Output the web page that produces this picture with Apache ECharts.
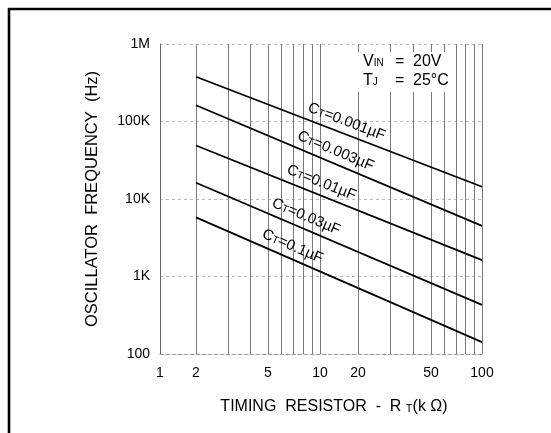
<!DOCTYPE html>
<html>
<head>
<meta charset="utf-8">
<script src="https://cdn.jsdelivr.net/npm/echarts@6/dist/echarts.min.js"></script>
<style>
  html, body { margin: 0; padding: 0; background: #fff; }
  #chart { width: 551px; height: 433px; }
</style>
</head>
<body>
<div id="chart"></div>
<script>
// resistor values (k ohm) where the curves start and end
var resistance = [2, 100];
// oscillator frequency (Hz) for each timing capacitor
var ct001 = [378000, 14400];
var ct003 = [162000, 4500];
var ct01 = [49000, 1630];
var ct03 = [16200, 430];
var ct1 = [5800, 142];
var capNames = ['0.001', '0.003', '0.01', '0.03', '0.1'];
var capSeries = [ct001, ct003, ct01, ct03, ct1];
// where along the x axis each curve label sits
var labelR = [15.0, 12.2, 9.6, 7.8, 6.5];

var xTicks = [1, 2, 5, 10, 20, 50, 100];
var xGrid = [2, 3, 4, 5, 6, 7, 8, 9, 10, 20, 30, 40, 50, 60, 70, 80, 90, 100];

// the printed sheet's x scale is not a true log scale: each labelled
// step gets its own width, log-spaced inside the step
var rKnots = [1, 2, 5, 10, 20, 50, 100];
var uKnots = [0, 36, 108, 160, 198, 271, 322];

function toU(r) {
    var lr = Math.log10(r);
    for (var i = 0; i < rKnots.length - 1; i++) {
        var a = Math.log10(rKnots[i]), b = Math.log10(rKnots[i + 1]);
        if (lr <= b + 1e-9 || i == rKnots.length - 2)
            return uKnots[i] + (lr - a) / (b - a) * (uKnots[i + 1] - uKnots[i]);
    }
}

var FONT = "'Liberation Sans', Arial, Helvetica, sans-serif";

var chart = echarts.init(document.getElementById('chart'));

var series = capSeries.map(function(vals, k){
    return {
        type: 'line',
        name: capNames[k],
        data: resistance.map(function(r, i){ return [toU(r), vals[i]]; }),
        symbol: 'none',
        lineStyle: { color: '#000', width: 1.8 },
        silent: true,
        z: 5
    };
});

// vertical grid lines
series.push({
    type: 'line',
    data: [],
    markLine: {
        silent: true,
        symbol: 'none',
        label: { show: false },
        lineStyle: { color: '#7a7a7a', width: 1, type: 'solid' },
        data: xGrid.map(function(r){ return { xAxis: toU(r) }; })
    },
    z: 1
});

var option = {
    animation: false,
    backgroundColor: '#fff',
    grid: { left: 160, right: 69, top: 44, bottom: 79 },
    xAxis: {
        type: 'value',
        min: 0,
        max: 322,
        name: 'TIMING  RESISTOR  -  R {s|T}(k Ω)',
        nameLocation: 'middle',
        nameGap: 45,
        nameTextStyle: {
            fontFamily: FONT, fontSize: 16, color: '#000',
            padding: [0, 0, 0, 26],
            rich: { s: { fontFamily: FONT, fontSize: 11, color: '#000', padding: [4, 0, 0, 0] } }
        },
        axisLine: { show: true, lineStyle: { color: '#999', type: [4, 2], width: 1 } },
        axisTick: { show: false },
        splitLine: { show: false },
        axisLabel: {
            customValues: xTicks.map(toU),
            margin: 12,
            fontFamily: FONT,
            fontSize: 14,
            color: '#000',
            formatter: function(v){
                for (var i = 0; i < xTicks.length; i++)
                    if (Math.abs(toU(xTicks[i]) - v) < 0.01) return String(xTicks[i]);
                return '';
            }
        }
    },
    yAxis: {
        type: 'log',
        logBase: 10,
        min: 100,
        max: 1000000,
        name: 'OSCILLATOR  FREQUENCY  (Hz)',
        nameLocation: 'middle',
        nameGap: 59,
        nameRotate: 90,
        nameTextStyle: { fontFamily: FONT, fontSize: 16.5, color: '#000' },
        axisLine: { show: true, lineStyle: { color: '#666', width: 1 } },
        axisTick: { show: false },
        splitLine: { show: true, lineStyle: { color: '#bbb', type: [3, 3], width: 1 } },
        axisLabel: {
            margin: 10,
            fontFamily: FONT,
            fontSize: 14,
            color: '#000',
            formatter: function(v){
                if (v >= 1000000) return Math.round(v / 1000000) + 'M';
                if (v >= 1000) return Math.round(v / 1000) + 'K';
                return String(Math.round(v));
            }
        }
    },
    series: series
};

chart.setOption(option);

// frame and condition text
var graphics = [
    { type: 'line', shape: { x1: 9, y1: 8, x2: 9, y2: 433 }, style: { stroke: '#000', lineWidth: 2.6 } },
    { type: 'line', shape: { x1: 8, y1: 9, x2: 551, y2: 9 }, style: { stroke: '#000', lineWidth: 2.6 } },
    { type: 'rect', shape: { x: 358, y: 52, width: 96, height: 40 }, style: { fill: '#fff' }, z: 20 },
    { type: 'text', x: 363, y: 62, z: 21, style: { text: '{a|V}{s|IN}', verticalAlign: 'middle', rich: {
        a: { fontFamily: FONT, fontSize: 16, fill: '#000' },
        s: { fontFamily: FONT, fontSize: 10, fill: '#000', padding: [3, 0, 0, 0] } } } },
    { type: 'text', x: 363, y: 81, z: 21, style: { text: '{a|T}{s|J}', verticalAlign: 'middle', rich: {
        a: { fontFamily: FONT, fontSize: 16, fill: '#000' },
        s: { fontFamily: FONT, fontSize: 10, fill: '#000', padding: [3, 0, 0, 0] } } } },
    { type: 'text', x: 395, y: 62, z: 21, style: { text: '=', verticalAlign: 'middle', font: '16px ' + FONT, fill: '#000' } },
    { type: 'text', x: 395, y: 81, z: 21, style: { text: '=', verticalAlign: 'middle', font: '16px ' + FONT, fill: '#000' } },
    { type: 'text', x: 413, y: 62, z: 21, style: { text: '20V', verticalAlign: 'middle', font: '16px ' + FONT, fill: '#000' } },
    { type: 'text', x: 413, y: 81, z: 21, style: { text: '25°C', verticalAlign: 'middle', font: '16px ' + FONT, fill: '#000' } }
];

// curve labels, laid along each line
capSeries.forEach(function(vals, k){
    var p0 = chart.convertToPixel({ gridIndex: 0 }, [toU(resistance[0]), vals[0]]);
    var p1 = chart.convertToPixel({ gridIndex: 0 }, [toU(resistance[1]), vals[1]]);
    var ang = Math.atan2(p1[1] - p0[1], p1[0] - p0[0]);
    var px = chart.convertToPixel({ gridIndex: 0 }, [toU(labelR[k]), 1000])[0];
    var py = p0[1] + (px - p0[0]) / (p1[0] - p0[0]) * (p1[1] - p0[1]);
    var d = 12;
    graphics.push({
        type: 'text',
        x: px + Math.sin(ang) * d,
        y: py - Math.cos(ang) * d,
        rotation: -ang,
        z: 10,
        style: {
            text: '{a|C}{s|T}{a|=' + capNames[k] + 'µF}',
            align: 'center',
            verticalAlign: 'middle',
            rich: {
                a: { fontFamily: FONT, fontSize: 15, fill: '#000' },
                s: { fontFamily: FONT, fontSize: 10.5, fill: '#000', padding: [3, 0, 0, 0] }
            }
        }
    });
});

chart.setOption({ graphic: graphics });
</script>
</body>
</html>
